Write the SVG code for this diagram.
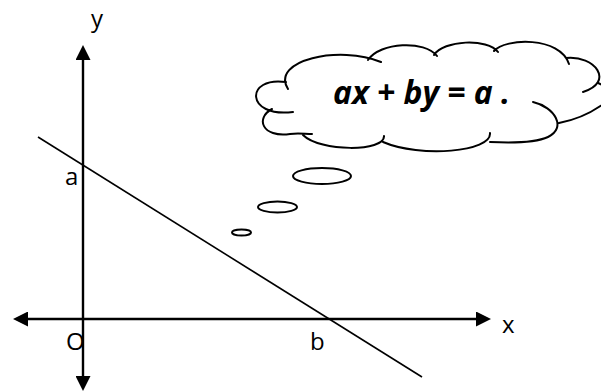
<svg xmlns="http://www.w3.org/2000/svg" width="601" height="392" viewBox="0 0 601 392">
<style>
.axis{stroke:#000;stroke-width:2.4;fill:none}
.ln{stroke:#000;stroke-width:1.6;fill:none}
.cloud{stroke:#000;stroke-width:2;fill:none;stroke-linecap:round}
.bub{stroke:#000;stroke-width:2;fill:#fff}
.lbl{font-family:"Open Sans","Noto Sans","Liberation Sans",sans-serif;font-size:24px;fill:#000}
.eq{font-family:"Open Sans","Noto Sans","Liberation Sans",sans-serif;font-size:32px;font-weight:bold;font-style:italic;fill:#000}
</style>
<defs>
<marker id="arr" viewBox="0 0 15 15" refX="10" refY="7.5" markerWidth="15" markerHeight="15" markerUnits="userSpaceOnUse" orient="auto-start-reverse">
<path d="M0,0 L15,7.5 L0,15 z" fill="#000"/>
</marker>
</defs>
<rect width="601" height="392" fill="#fff"/>
<g id="connectors">
<line id="y-axis" class="axis" x1="83" y1="50" x2="83" y2="386" marker-start="url(#arr)" marker-end="url(#arr)"/>
<line id="x-axis" class="axis" x1="18" y1="319" x2="486" y2="319" marker-start="url(#arr)" marker-end="url(#arr)"/>
<line id="line" class="ln" x1="38" y1="137" x2="422" y2="377"/>
</g>
<g id="labels">
<text class="lbl" x="91" y="27">y</text>
<text class="lbl" x="65" y="185">a</text>
<text class="lbl" x="66" y="350">O</text>
<text class="lbl" x="310" y="350">b</text>
<text class="lbl" x="502" y="333">x</text>
</g>
<g id="bubbles">
<ellipse class="bub" cx="322" cy="176" rx="29" ry="8"/>
<ellipse class="bub" cx="277.5" cy="207" rx="19.5" ry="5.5"/>
<ellipse class="bub" cx="241.5" cy="232.5" rx="9.5" ry="3"/>
</g>
<g id="cloud">
<path class="cloud" d="M293,112 C245,118 245,76 286,82
M288,89 C270,60 340,45 381,62
M368,60 C380,42 425,40 437,56
M434,55 C443,40 488,38 498,52
M494,51 C505,38 560,36 569,64
M566,58 C595,55 615,82 583,92
M598,83 C601,84 604,86 608,90
M606,102 Q585,118 559,123
M533,102 C555,107 567,128 548,137 C535,143 510,143 490,142
M490,133 C492,152 420,158 383,142
M384,136 C385,152 320,152 303,135
M272,109 C255,118 262,138 290,134 C298,133 305,134 312,134"/>
<text class="eq" x="333" y="104" textLength="177" lengthAdjust="spacingAndGlyphs">ax + by = a .</text>
</g>
</svg>
